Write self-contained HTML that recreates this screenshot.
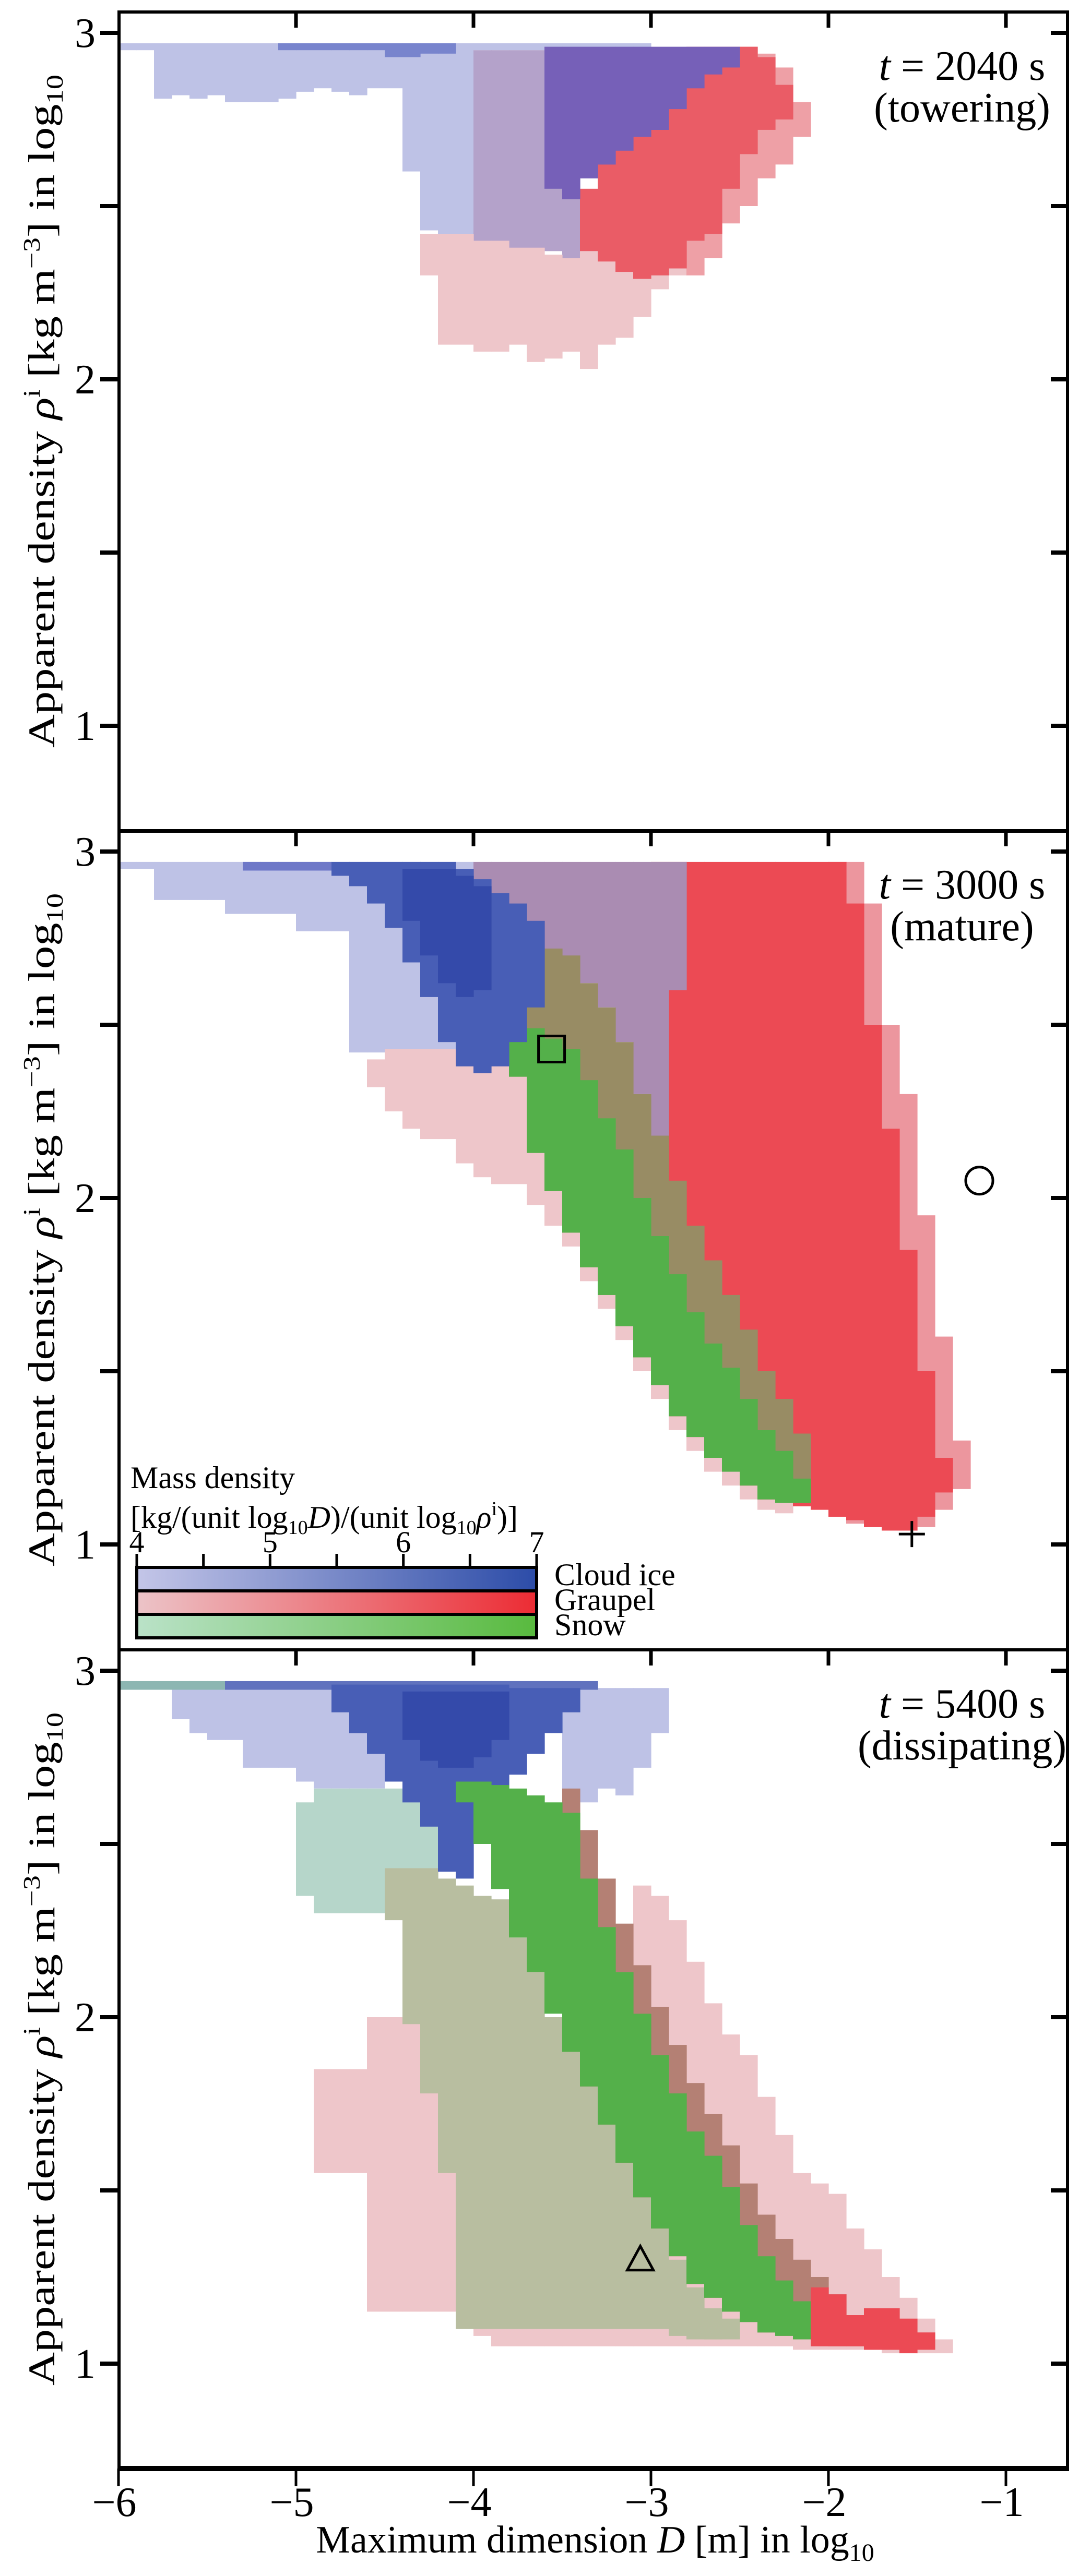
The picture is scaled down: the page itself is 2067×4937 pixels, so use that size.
<!DOCTYPE html>
<html><head><meta charset="utf-8"><style>
html,body{margin:0;padding:0;background:#fff;}
svg{display:block;font-family:"Liberation Serif","Times New Roman",serif;}
</style></head><body>
<svg id="chart" width="2067" height="4937" viewBox="0 0 2067 4937" xmlns="http://www.w3.org/2000/svg" font-family="Liberation Serif, Times New Roman, serif">
<g id="cells"></g>
<g id="axes"></g>
</svg>
<script>
// ---------- axis tick data ----------
const xTicks = [-6,-5,-4,-3,-2,-1];
const xTickLabels = ["\u22126","\u22125","\u22124","\u22123","\u22122","\u22121"];
const yTicks = [3,2,1];
const yMinorTicks = [3,2.5,2,1.5,1];
const panelTimes = ["t = 2040 s","t = 3000 s","t = 5400 s"];
const panelStages = ["(towering)","(mature)","(dissipating)"];
const cbTicks = [4,5,6,7];

// ---------- panel 1 (towering) ----------
const p1IceCols = [-5.95,-5.85,-5.75,-5.65,-5.55,-5.45,-5.35,-5.25,-5.15,-5.05,-4.95,-4.85,-4.75,-4.65,-4.55,-4.45,-4.35,-4.25,-4.15,-4.05,-3.95,-3.85,-3.75,-3.65,-3.55,-3.45,-3.35,-3.25,-3.15,-3.05];
const p1IceHi = [2.97,2.97,2.97,2.97,2.97,2.97,2.97,2.97,2.97,2.97,2.97,2.97,2.97,2.97,2.97,2.97,2.97,2.97,2.97,2.97,2.97,2.97,2.97,2.97,2.97,2.97,2.97,2.97,2.97,2.97];
const p1IceLo = [2.95,2.95,2.81,2.82,2.81,2.82,2.80,2.80,2.80,2.81,2.83,2.84,2.83,2.82,2.84,2.84,2.60,2.43,2.40,2.40,2.95,2.95,2.95,2.95,2.95,2.95,2.95,2.95,2.95,2.95];
const p1MixCols = [-3.95,-3.85,-3.75,-3.65,-3.55,-3.45];
const p1MixHi = [2.95,2.95,2.95,2.95,2.95,2.95];
const p1MixLo = [2.39,2.37,2.37,2.37,2.37,2.32];
const p1PinkCols = [-4.25,-4.15,-4.05,-3.95,-3.85,-3.75,-3.65,-3.55,-3.45,-3.35,-3.25,-3.15,-3.05,-2.95,-2.85];
const p1PinkHi = [2.42,2.42,2.42,2.40,2.40,2.38,2.38,2.36,2.35,2.37,2.38,2.40,2.42,2.45,2.40];
const p1PinkLo = [2.30,2.10,2.10,2.08,2.08,2.10,2.05,2.06,2.08,2.03,2.10,2.12,2.18,2.26,2.30];
const p1FringeCols = [-2.75,-2.65,-2.55,-2.45,-2.35,-2.25,-2.15];
const p1FringeHi = [2.96,2.96,2.96,2.96,2.94,2.90,2.80];
const p1FringeLo = [2.30,2.35,2.45,2.50,2.58,2.62,2.70];
const p1RedCols = [-3.35,-3.25,-3.15,-3.05,-2.95,-2.85,-2.75,-2.65,-2.55,-2.45,-2.35,-2.25];
const p1RedHi = [2.55,2.65,2.72,2.78,2.84,2.90,2.96,2.96,2.96,2.96,2.93,2.85];
const p1RedLo = [2.37,2.34,2.31,2.29,2.30,2.32,2.40,2.42,2.55,2.65,2.72,2.75];
const p1BlueCols = [-3.55,-3.45,-3.35,-3.25,-3.15,-3.05,-2.95,-2.85,-2.75,-2.65,-2.55];
const p1BlueHi = [2.96,2.96,2.96,2.96,2.96,2.96,2.96,2.96,2.96,2.96,2.96];
const p1BlueLo = [2.55,2.52,2.58,2.62,2.66,2.70,2.72,2.78,2.84,2.88,2.90];
const p1StreakCols = [-5.05,-4.95,-4.85,-4.75,-4.65,-4.55,-4.45,-4.35,-4.25,-4.15];
const p1StreakHi = [2.97,2.97,2.97,2.97,2.97,2.97,2.97,2.97,2.97,2.97];
const p1StreakLo = [2.95,2.95,2.95,2.95,2.95,2.95,2.93,2.93,2.94,2.94];

// ---------- panel 2 (mature) ----------
const p2IceCols = [-5.95,-5.85,-5.75,-5.65,-5.55,-5.45,-5.35,-5.25,-5.15,-5.05,-4.95,-4.85,-4.75,-4.65,-4.55,-4.45,-4.35,-4.25,-4.15,-4.05];
const p2IceHi = [2.97,2.97,2.97,2.97,2.97,2.97,2.97,2.97,2.97,2.97,2.97,2.97,2.97,2.97,2.97,2.97,2.97,2.97,2.97,2.97];
const p2IceLo = [2.95,2.95,2.86,2.86,2.86,2.86,2.82,2.82,2.82,2.82,2.77,2.77,2.77,2.42,2.42,2.42,2.42,2.42,2.42,2.40];
const p2PinkCols = [-4.55,-4.45,-4.35,-4.25,-4.15,-4.05,-3.95,-3.85,-3.75,-3.65,-3.55,-3.45,-3.35,-3.25,-3.15,-3.05,-2.95,-2.85,-2.75,-2.65,-2.55,-2.45,-2.35,-2.25];
const p2PinkHi = [2.40,2.43,2.43,2.43,2.43,2.40,2.40,2.40,2.40,2.31,2.16,2.00,1.90,1.80,1.72,1.63,1.54,1.46,1.37,1.31,1.25,1.21,1.17,1.13];
const p2PinkLo = [2.32,2.25,2.20,2.17,2.17,2.10,2.06,2.04,2.04,1.98,1.92,1.86,1.76,1.68,1.59,1.50,1.42,1.33,1.27,1.21,1.17,1.13,1.10,1.09];
const p2FringeCols = [-1.95,-1.85,-1.75,-1.65,-1.55,-1.45,-1.35,-1.25];
const p2FringeHi = [2.97,2.97,2.85,2.50,2.30,1.95,1.60,1.30];
const p2FringeLo = [1.08,1.06,1.05,1.04,1.04,1.05,1.10,1.16];
const p2RedCols = [-2.95,-2.85,-2.75,-2.65,-2.55,-2.45,-2.35,-2.25,-2.15,-2.05,-1.95,-1.85,-1.75,-1.65,-1.55,-1.45,-1.35];
const p2RedHi = [2.97,2.97,2.97,2.97,2.97,2.97,2.97,2.97,2.97,2.97,2.97,2.85,2.50,2.20,1.85,1.50,1.25];
const p2RedLo = [1.46,1.37,1.31,1.25,1.21,1.17,1.13,1.12,1.11,1.10,1.08,1.07,1.05,1.04,1.04,1.08,1.15];
const p2MixCols = [-3.95,-3.85,-3.75,-3.65,-3.55,-3.45,-3.35,-3.25,-3.15,-3.05,-2.95,-2.85];
const p2MixHi = [2.97,2.97,2.97,2.97,2.97,2.97,2.97,2.97,2.97,2.97,2.97,2.97];
const p2MixLo = [2.45,2.45,2.45,2.50,2.60,2.65,2.62,2.55,2.45,2.30,2.18,2.60];
const p2OliveCols = [-3.85,-3.75,-3.65,-3.55,-3.45,-3.35,-3.25,-3.15,-3.05,-2.95,-2.85,-2.75,-2.65,-2.55,-2.45,-2.35,-2.25,-2.15];
const p2OliveHi = [2.62,2.70,2.72,2.72,2.70,2.62,2.55,2.45,2.30,2.18,2.05,1.92,1.82,1.72,1.62,1.50,1.42,1.32];
const p2OliveLo = [2.40,2.35,2.13,2.02,1.90,1.80,1.72,1.63,1.54,1.46,1.37,1.31,1.25,1.21,1.17,1.13,1.12,1.12];
const p2GreenCols = [-3.75,-3.65,-3.55,-3.45,-3.35,-3.25,-3.15,-3.05,-2.95,-2.85,-2.75,-2.65,-2.55,-2.45,-2.35,-2.25,-2.15];
const p2GreenHi = [2.49,2.49,2.46,2.43,2.34,2.23,2.14,2.00,1.89,1.78,1.67,1.58,1.51,1.42,1.33,1.27,1.19];
const p2GreenLo = [2.35,2.13,2.02,1.90,1.80,1.72,1.63,1.54,1.46,1.37,1.31,1.25,1.21,1.17,1.13,1.12,1.12];
const p2BlueCols = [-4.75,-4.65,-4.55,-4.45,-4.35,-4.25,-4.15,-4.05,-3.95,-3.85,-3.75,-3.65];
const p2BlueHi = [2.97,2.97,2.97,2.97,2.97,2.97,2.97,2.95,2.92,2.88,2.85,2.80];
const p2BlueLo = [2.93,2.90,2.85,2.78,2.68,2.58,2.45,2.38,2.36,2.38,2.45,2.55];
const p2CoreCols = [-4.35,-4.25,-4.15,-4.05,-3.95];
const p2CoreHi = [2.95,2.95,2.95,2.93,2.90];
const p2CoreLo = [2.80,2.70,2.62,2.58,2.60];
const p2StreakCols = [-5.25,-5.15,-5.05,-4.95,-4.85];
const p2StreakHi = [2.97,2.97,2.97,2.97,2.97];
const p2StreakLo = [2.945,2.945,2.945,2.945,2.945];

// ---------- panel 3 (dissipating) ----------
const p3TealCols = [-5.95,-5.85,-5.75,-5.65,-5.55,-5.45];
const p3TealHi = [2.97,2.97,2.97,2.97,2.97,2.97];
const p3TealLo = [2.945,2.945,2.945,2.945,2.945,2.945];
const p3IceCols = [-5.65,-5.55,-5.45,-5.35,-5.25,-5.15,-5.05,-4.95,-4.85,-4.75,-4.65,-4.55,-3.45,-3.35,-3.25,-3.15,-3.05,-2.95];
const p3IceHi = [2.945,2.945,2.945,2.945,2.945,2.945,2.945,2.945,2.945,2.945,2.945,2.945,2.95,2.95,2.95,2.95,2.95,2.95];
const p3IceLo = [2.86,2.82,2.80,2.80,2.72,2.72,2.72,2.68,2.66,2.66,2.66,2.66,2.62,2.62,2.66,2.64,2.72,2.82];
const p3PaleCols = [-4.95,-4.85,-4.75,-4.65,-4.55,-4.45,-4.35,-4.25];
const p3PaleHi = [2.62,2.66,2.66,2.66,2.66,2.66,2.62,2.62];
const p3PaleLo = [2.35,2.30,2.30,2.30,2.30,2.35,2.40,2.40];
const p3PinkCols = [-4.85,-4.75,-4.65,-4.55,-4.45,-4.35,-4.25,-4.15,-4.05,-3.95,-3.85,-3.75,-3.65,-3.55,-3.45,-3.35,-3.25,-3.15,-3.05,-2.95,-2.85,-2.75,-2.65,-2.55,-2.45,-2.35,-2.25,-2.15,-2.05,-1.95,-1.85,-1.75,-1.65,-1.55,-1.45,-1.35];
const p3PinkHi = [1.85,1.85,1.85,2.00,2.00,2.00,2.00,2.00,1.40,1.30,1.25,1.25,1.25,1.25,1.25,1.25,1.25,1.25,2.38,2.35,2.28,2.16,2.04,1.95,1.89,1.77,1.66,1.55,1.52,1.49,1.39,1.33,1.25,1.19,1.13,1.07];
const p3PinkLo = [1.55,1.55,1.55,1.15,1.15,1.15,1.15,1.15,1.10,1.08,1.05,1.05,1.05,1.05,1.05,1.05,1.05,1.05,1.05,1.05,1.05,1.05,1.05,1.05,1.05,1.05,1.05,1.04,1.04,1.04,1.04,1.04,1.03,1.03,1.03,1.03];
const p3KhakiCols = [-4.45,-4.35,-4.25,-4.15,-4.05,-3.95,-3.85,-3.75,-3.65,-3.55,-3.45,-3.35,-3.25,-3.15,-3.05,-2.95,-2.85,-2.75,-2.65,-2.55];
const p3KhakiHi = [2.43,2.43,2.43,2.40,2.38,2.35,2.34,2.23,2.13,2.00,1.92,1.81,1.70,1.60,1.49,1.40,1.30,1.22,1.16,1.13];
const p3KhakiLo = [2.28,1.98,1.78,1.55,1.10,1.10,1.10,1.10,1.10,1.10,1.10,1.10,1.10,1.10,1.10,1.10,1.08,1.07,1.07,1.07];
const p3BlueCols = [-4.75,-4.65,-4.55,-4.45,-4.35,-4.25,-4.15,-4.05,-3.95,-3.85,-3.75,-3.65,-3.55,-3.45];
const p3BlueHi = [2.96,2.96,2.96,2.96,2.96,2.96,2.96,2.96,2.96,2.96,2.95,2.95,2.95,2.95];
const p3BlueLo = [2.88,2.82,2.76,2.68,2.62,2.55,2.42,2.40,2.55,2.62,2.70,2.76,2.82,2.88];
const p3CoreCols = [-4.35,-4.25,-4.15,-4.05,-3.95,-3.85];
const p3CoreHi = [2.94,2.94,2.94,2.94,2.94,2.94];
const p3CoreLo = [2.80,2.74,2.72,2.72,2.75,2.80];
const p3BandCols = [-5.35,-5.25,-5.15,-5.05,-4.95,-4.85,-4.75,-4.65,-4.55,-4.45,-4.35,-4.25,-4.15,-4.05,-3.95,-3.85,-3.75,-3.65,-3.55,-3.45,-3.35];
const p3BandHi = [2.97,2.97,2.97,2.97,2.97,2.97,2.97,2.97,2.97,2.97,2.97,2.97,2.97,2.97,2.97,2.97,2.97,2.97,2.97,2.97,2.97];
const p3BandLo = [2.945,2.945,2.945,2.945,2.945,2.945,2.945,2.945,2.945,2.945,2.945,2.945,2.945,2.945,2.945,2.945,2.945,2.945,2.945,2.945,2.945];
const p3BrownCols = [-3.45,-3.35,-3.25,-3.15,-3.05,-2.95,-2.85,-2.75,-2.65,-2.55,-2.45,-2.35,-2.25,-2.15,-2.05,-1.95,-1.85];
const p3BrownHi = [2.66,2.54,2.40,2.27,2.15,2.03,1.92,1.81,1.72,1.63,1.52,1.43,1.36,1.30,1.25,1.20,1.14];
const p3BrownLo = [1.90,1.80,1.69,1.58,1.48,1.39,1.31,1.23,1.19,1.15,1.12,1.09,1.08,1.07,1.06,1.05,1.05];
const p3GreenCols = [-4.05,-3.95,-3.85,-3.75,-3.65,-3.55,-3.45,-3.35,-3.25,-3.15,-3.05,-2.95,-2.85,-2.75,-2.65,-2.55,-2.45,-2.35,-2.25,-2.15,-2.05];
const p3GreenHi = [2.68,2.68,2.67,2.66,2.64,2.62,2.59,2.40,2.26,2.13,2.01,1.89,1.78,1.67,1.60,1.51,1.40,1.31,1.24,1.18,1.13];
const p3GreenLo = [2.62,2.50,2.37,2.23,2.13,2.01,1.90,1.80,1.69,1.58,1.48,1.39,1.31,1.23,1.19,1.15,1.12,1.09,1.08,1.07,1.06];
const p3RedCols = [-2.05,-1.95,-1.85,-1.75,-1.65,-1.55,-1.45];
const p3RedHi = [1.22,1.20,1.14,1.16,1.16,1.13,1.09];
const p3RedLo = [1.05,1.05,1.05,1.04,1.04,1.03,1.04];

// ---------- markers ----------
const squareMark = [-3.56, 2.43];
const circleMark = [-1.15, 2.05];
const plusMark = [-1.53, 1.03];
const triangleMark = [-3.06, 1.30];

// ---------- layout ----------
const NS = "http://www.w3.org/2000/svg";
const L = 228, R = 2045, X0 = 227, XU = 340;
const panelTops = [23, 1592, 3162];
const PH = 1570, YU = 664;
function xs(d){ return X0 + (d + 6) * XU; }
function ys(p, v){ return panelTops[p] + 40 + (3 - v) * YU; }
const COLW = 0.1;

const cellsG = document.getElementById('cells');
const axesG = document.getElementById('axes');
function mk(tag, attrs, parent){
  const e = document.createElementNS(NS, tag);
  for (const k in attrs) e.setAttribute(k, attrs[k]);
  parent.appendChild(e); return e;
}
function layer(p, cols, hi, lo, fill, name, op){
  const g = mk('g', {fill: fill, opacity: op || 1}, cellsG);
  
  
  for (let i = 0; i < cols.length; i++){
    const x1 = xs(cols[i] - COLW/2), x2 = xs(cols[i] + COLW/2);
    const y1 = ys(p, hi[i]), y2 = ys(p, lo[i]);
    const r = mk('rect', {x: x1.toFixed(1), y: y1.toFixed(1), width: (x2-x1+0.6).toFixed(1), height: Math.max(0, y2-y1).toFixed(1)}, g);
    
    
  }
}
const LAV='rgb(190,194,230)', PINK='rgb(238,198,202)', RED='rgb(236,74,84)', BLUE='rgb(72,94,182)', CORE='rgb(52,74,170)', GREEN='rgb(84,176,74)';

// panel 1
layer(0, p1IceCols, p1IceHi, p1IceLo, LAV, 'towering-cloud-ice-light');
layer(0, p1StreakCols, p1StreakHi, p1StreakLo, 'rgb(120,132,205)', 'towering-cloud-ice-streak');
layer(0, p1MixCols, p1MixHi, p1MixLo, 'rgb(180,162,202)', 'towering-mixed-region');
layer(0, p1PinkCols, p1PinkHi, p1PinkLo, PINK, 'towering-graupel-light');
layer(0, p1FringeCols, p1FringeHi, p1FringeLo, 'rgb(238,160,166)', 'towering-graupel-fringe');
layer(0, p1RedCols, p1RedHi, p1RedLo, 'rgb(234,92,102)', 'towering-graupel-dense');
layer(0, p1BlueCols, p1BlueHi, p1BlueLo, 'rgb(118,96,184)', 'towering-cloud-ice-dense');

// panel 2
layer(1, p2IceCols, p2IceHi, p2IceLo, LAV, 'mature-cloud-ice-light');
layer(1, p2PinkCols, p2PinkHi, p2PinkLo, PINK, 'mature-graupel-light');
layer(1, p2FringeCols, p2FringeHi, p2FringeLo, 'rgb(236,150,158)', 'mature-graupel-fringe');
layer(1, p2RedCols, p2RedHi, p2RedLo, RED, 'mature-graupel-dense');
layer(1, p2MixCols, p2MixHi, p2MixLo, 'rgb(170,140,178)', 'mature-mixed-region');
layer(1, p2OliveCols, p2OliveHi, p2OliveLo, 'rgb(152,140,100)', 'mature-snow-graupel-mix');
layer(1, p2GreenCols, p2GreenHi, p2GreenLo, GREEN, 'mature-snow-dense');
layer(1, p2StreakCols, p2StreakHi, p2StreakLo, 'rgb(110,120,200)', 'mature-cloud-ice-streak');
layer(1, p2BlueCols, p2BlueHi, p2BlueLo, BLUE, 'mature-cloud-ice-dense');
layer(1, p2CoreCols, p2CoreHi, p2CoreLo, CORE, 'mature-cloud-ice-core');

// panel 3
layer(2, p3TealCols, p3TealHi, p3TealLo, 'rgb(140,182,178)', 'dissipating-band-teal');
layer(2, p3IceCols, p3IceHi, p3IceLo, LAV, 'dissipating-cloud-ice-light');
layer(2, p3PaleCols, p3PaleHi, p3PaleLo, 'rgb(182,214,202)', 'dissipating-snow-light');
layer(2, p3PinkCols, p3PinkHi, p3PinkLo, PINK, 'dissipating-graupel-light');
layer(2, p3KhakiCols, p3KhakiHi, p3KhakiLo, 'rgb(184,190,160)', 'dissipating-snow-graupel-mix');
layer(2, p3BandCols, p3BandHi, p3BandLo, 'rgb(96,114,190)', 'dissipating-cloud-ice-band');
layer(2, p3BlueCols, p3BlueHi, p3BlueLo, BLUE, 'dissipating-cloud-ice-dense');
layer(2, p3CoreCols, p3CoreHi, p3CoreLo, CORE, 'dissipating-cloud-ice-core');
layer(2, p3BrownCols, p3BrownHi, p3BrownLo, 'rgb(180,128,116)', 'dissipating-graupel-mix');
layer(2, p3GreenCols, p3GreenHi, p3GreenLo, GREEN, 'dissipating-snow-dense');
layer(2, p3RedCols, p3RedHi, p3RedLo, RED, 'dissipating-graupel-dense');

// ---------- axes ----------
for (let p = 0; p < 3; p++){
  const top = panelTops[p];
  const fr = mk('rect', {x: L, y: top, width: R - L, height: PH, fill: 'none', stroke: '#000', 'stroke-width': 6}, axesG);
  
  
  yMinorTicks.forEach(v => {
    const y = ys(p, v);
    const t1 = mk('line', {x1: 192, x2: L, y1: y, y2: y, stroke: '#000', 'stroke-width': 8}, axesG);
    
    
    const t2 = mk('line', {x1: R - 32, x2: R, y1: y, y2: y, stroke: '#000', 'stroke-width': 8}, axesG);
    
    
  });
  yTicks.forEach(v => {
    const t = mk('text', {x: 183, y: ys(p, v) + 27, 'font-size': 80, 'text-anchor': 'end'}, axesG);
    t.textContent = String(v);
    
    
  });
  xTicks.slice(1).forEach(d => {
    const t = mk('line', {x1: xs(d), x2: xs(d), y1: top, y2: top + 30, stroke: '#000', 'stroke-width': 7}, axesG);
    
    
  });
  const cy = top + PH/2 - 20;
  const lab = mk('text', {x: 0, y: 0, 'font-size': 72, 'text-anchor': 'middle', transform: 'translate(104,' + cy + ') rotate(-90)', textLength: 1290, lengthAdjust: 'spacingAndGlyphs'}, axesG);
  
  
  lab.innerHTML = 'Apparent density <tspan font-style="italic">\u03c1</tspan><tspan font-size="46" dy="-28">i</tspan><tspan dy="28"> [kg m</tspan><tspan font-size="46" dy="-28">\u22123</tspan><tspan dy="28">] in log</tspan><tspan font-size="46" dy="16">10</tspan>';
  const t1 = mk('text', {x: 1843, y: top + 130, 'font-size': 80, 'text-anchor': 'middle'}, axesG);
  t1.innerHTML = '<tspan font-style="italic">t</tspan>' + panelTimes[p].slice(1);
  
  
  const t2 = mk('text', {x: 1843, y: top + 210, 'font-size': 80, 'text-anchor': 'middle'}, axesG);
  t2.textContent = panelStages[p];
  
  
}
// bottom x axis
const xa = mk('line', {x1: L - 3, x2: R + 3, y1: 4731, y2: 4731, stroke: '#000', 'stroke-width': 10}, axesG);


xTicks.forEach((d, i) => {
  const t = mk('line', {x1: xs(d), x2: xs(d), y1: 4731, y2: 4765, stroke: '#000', 'stroke-width': 5}, axesG);
  
  
  const l = mk('text', {x: xs(d) - 8, y: 4822, 'font-size': 80, 'text-anchor': 'middle'}, axesG);
  l.textContent = xTickLabels[i];
  
  
});
const xt = mk('text', {x: 1140, y: 4892, 'font-size': 74, 'text-anchor': 'middle'}, axesG);
xt.innerHTML = 'Maximum dimension <tspan font-style="italic">D</tspan> [m] in log<tspan font-size="48" dy="16">10</tspan>';



// ---------- markers ----------
const sq = mk('rect', {x: xs(squareMark[0]) - 25, y: ys(1, squareMark[1]) - 25, width: 50, height: 50, fill: 'none', stroke: '#000', 'stroke-width': 5}, axesG);


const ci = mk('circle', {cx: xs(circleMark[0]), cy: ys(1, circleMark[1]), r: 26, fill: 'none', stroke: '#000', 'stroke-width': 5}, axesG);


const px = xs(plusMark[0]), py = ys(1, plusMark[1]);
const pl = mk('path', {d: 'M' + (px-25) + ' ' + py + 'H' + (px+25) + 'M' + px + ' ' + (py-25) + 'V' + (py+25), stroke: '#000', 'stroke-width': 5, fill: 'none'}, axesG);


const tx = xs(triangleMark[0]), ty = ys(2, triangleMark[1]);
const tr = mk('path', {d: 'M' + tx + ' ' + (ty-26) + 'L' + (tx+25) + ' ' + (ty+20) + 'L' + (tx-25) + ' ' + (ty+20) + 'Z', stroke: '#000', 'stroke-width': 5, fill: 'none'}, axesG);



// ---------- legend / colorbar ----------
const defs = mk('defs', {}, axesG);
function grad(id, c1, c2){
  const g = mk('linearGradient', {id: id, x1: 0, x2: 1, y1: 0, y2: 0}, defs);
  mk('stop', {offset: 0, 'stop-color': c1}, g);
  mk('stop', {offset: 1, 'stop-color': c2}, g);
}
grad('gIce', 'rgb(196,198,232)', 'rgb(44,76,168)');
grad('gGra', 'rgb(236,196,200)', 'rgb(236,44,52)');
grad('gSnow', 'rgb(186,226,200)', 'rgb(88,186,62)');
const cbL = 262, cbR = 1028, cbT = 3004;
const cb0 = 4, cbU = (cbR - cbL) / 3;
const lg = mk('text', {x: 250, y: 2852, 'font-size': 60}, axesG);
lg.textContent = 'Mass density';


const lg2 = mk('text', {x: 250, y: 2928, 'font-size': 60}, axesG);
lg2.innerHTML = '[kg/(unit log<tspan font-size="38" dy="12">10</tspan><tspan dy="-12" font-style="italic">D</tspan>)/(unit log<tspan font-size="38" dy="12">10</tspan><tspan dy="-12" font-style="italic">\u03c1</tspan><tspan font-size="38" dy="-24">i</tspan><tspan dy="24">)]</tspan>';


['gIce','gGra','gSnow'].forEach((g, i) => {
  const r = mk('rect', {x: cbL, y: cbT + i*45, width: cbR - cbL, height: 45, fill: 'url(#' + g + ')', stroke: '#000', 'stroke-width': 6}, axesG);
  
  
});
[4,4.5,5,5.5,6,6.5,7].forEach(v => {
  const t = mk('line', {x1: cbL + (v - cb0)*cbU, x2: cbL + (v - cb0)*cbU, y1: cbT - 26, y2: cbT, stroke: '#000', 'stroke-width': 5}, axesG);
  
  
});
cbTicks.forEach(v => {
  const t = mk('text', {x: cbL + (v - cb0)*cbU, y: 2975, 'font-size': 58, 'text-anchor': 'middle'}, axesG);
  t.textContent = String(v);
  
  
});
['Cloud ice','Graupel','Snow'].forEach((s, i) => {
  const t = mk('text', {x: 1062, y: 3038 + i*48, 'font-size': 60}, axesG);
  t.textContent = s;
  
  
});
</script>
</body></html>
